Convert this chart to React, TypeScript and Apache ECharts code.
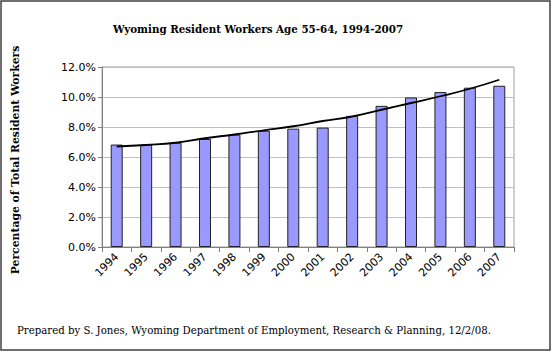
import React, { useEffect, useRef } from "react";
import * as echarts from "echarts";

const years = ["1994","1995","1996","1997","1998","1999","2000","2001","2002","2003","2004","2005","2006","2007"];
const shares = [6.83, 6.83, 6.95, 7.2, 7.49, 7.75, 7.89, 7.96, 8.74, 9.41, 9.97, 10.33, 10.62, 10.75];
const trend = [6.7, 6.8, 6.95, 7.25, 7.5, 7.78, 8.05, 8.4, 8.7, 9.15, 9.6, 10.05, 10.55, 11.15];
const titleText = "Wyoming Resident Workers Age 55-64, 1994-2007";
const yAxisTitle = "Percentage of Total Resident Workers";
const footerText = "Prepared by S. Jones, Wyoming Department of Employment, Research & Planning, 12/2/08.";

export default function App() {
  const ref = useRef<HTMLDivElement>(null);
  useEffect(() => {
    document.body.style.margin = "0";
    const chart = echarts.init(ref.current!, null, { renderer: "svg" });
    chart.setOption({
      animation: false,
      backgroundColor: "#fff",
      grid: { left: 102, right: 38, top: 67, bottom: 106, show: true, borderColor: "#a0a0a0", borderWidth: 1, backgroundColor: "transparent" },
      xAxis: {
        type: "category",
        data: years,
        boundaryGap: true,
        axisLine: { lineStyle: { color: "#808080", width: 1 } },
        axisTick: { show: true, alignWithLabel: false, length: 5, lineStyle: { color: "#808080" } },
        axisLabel: { rotate: 45, fontFamily: "DejaVu Sans", fontSize: 11, color: "#000", margin: 8 },
      },
      yAxis: {
        type: "value",
        min: 0,
        max: 12,
        interval: 2,
        axisLine: { show: true, lineStyle: { color: "#808080", width: 1 } },
        axisTick: { show: true, length: 4, lineStyle: { color: "#808080" } },
        splitLine: { lineStyle: { color: "#c0c0c0", width: 1 } },
        axisLabel: { formatter: (v: number) => v.toFixed(1) + "%", fontFamily: "DejaVu Sans", fontSize: 11, color: "#000", margin: 6 },
      },
      series: [
        {
          type: "bar",
          data: shares,
          barWidth: 12,
          itemStyle: { color: "#9999ff", borderColor: "#222", borderWidth: 1 },
        },
        {
          type: "line",
          data: trend,
          smooth: true,
          symbol: "none",
          lineStyle: { color: "#000", width: 1.8 },
        },
      ],
      graphic: [
        { type: "rect", shape: { x: 1, y: 1, width: 549, height: 349 }, style: { fill: "none", stroke: "#404040", lineWidth: 1.5 }, silent: true },
        { type: "text", x: 258, y: 29, style: { text: titleText, fontFamily: "DejaVu Serif", fontWeight: "bold", fontSize: 10.3, fill: "#000", textAlign: "center", textVerticalAlign: "middle" } },
        { type: "text", x: 15, y: 160, rotation: Math.PI / 2, style: { text: yAxisTitle, fontFamily: "DejaVu Serif", fontWeight: "bold", fontSize: 10.8, fill: "#000", textAlign: "center", textVerticalAlign: "middle" } },
        { type: "text", x: 17, y: 330, style: { text: footerText, fontFamily: "DejaVu Serif", fontSize: 10.2, fill: "#000", textAlign: "left", textVerticalAlign: "middle" } },
      ],
    });
    return () => chart.dispose();
  }, []);
  return <div ref={ref} style={{ width: 552, height: 353 }} />;
}
